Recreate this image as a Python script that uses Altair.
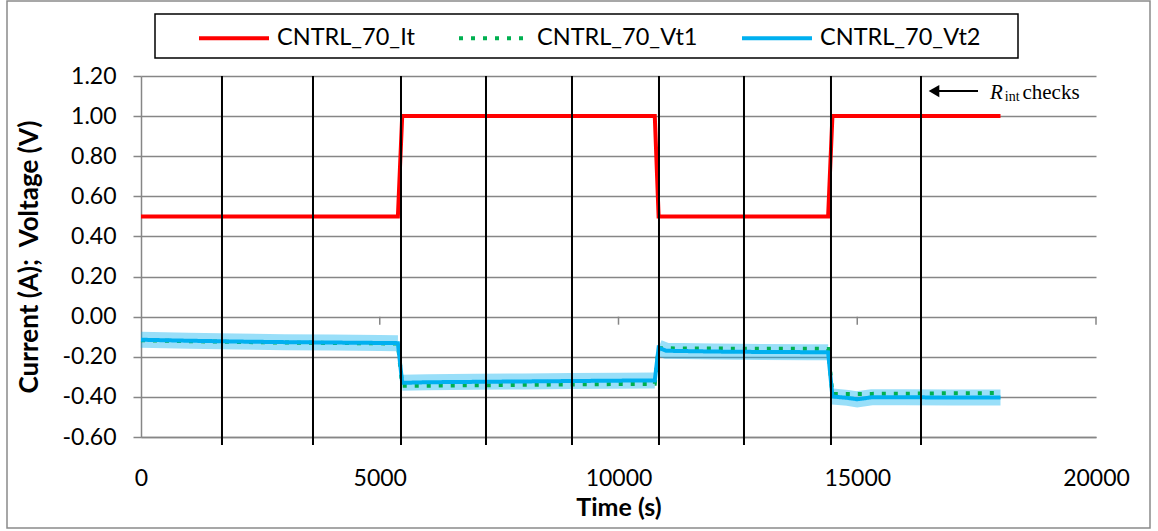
import altair as alt
import numpy as np
import pandas as pd

# Series names and colours (legend order)
series_names = ["CNTRL_70_It", "CNTRL_70_Vt1", "CNTRL_70_Vt2"]
series_colors = ["#FF0000", "#00B050", "#00B0F0"]

# Applied current (A)
time_it = [0, 5380, 5470, 10760, 10840, 14390, 14480, 18000]
current_it = [0.5, 0.5, 1.0, 1.0, 0.5, 0.5, 1.0, 1.0]

# Cell voltages (V), sampled at the same times
time_v = [0, 1000, 2000, 3000, 4000, 5000, 5380,
          5470, 6000, 7000, 8000, 9000, 10000, 10760,
          10840, 11000, 12000, 13000, 14000, 14390,
          14480, 14800, 15000, 15300, 16000, 17000, 18000]
vt1 = [-0.117, -0.122, -0.126, -0.129, -0.131, -0.133, -0.134,
       -0.345, -0.344, -0.342, -0.340, -0.338, -0.336, -0.335,
       -0.158, -0.158, -0.159, -0.160, -0.160, -0.161,
       -0.386, -0.386, -0.386, -0.385, -0.384, -0.382, -0.381]
vt2 = [-0.115, -0.120, -0.124, -0.127, -0.129, -0.131, -0.132,
       -0.330, -0.327, -0.325, -0.323, -0.321, -0.319, -0.318,
       -0.155, -0.170, -0.174, -0.176, -0.177, -0.178,
       -0.398, -0.405, -0.412, -0.402, -0.402, -0.403, -0.403]

# Times of the internal-resistance checks
rint_check_times = [1696, 3602, 5445, 7225, 9026, 10848, 12628, 14450, 16335]
# Current steps split the voltage trace into plateaus
step_times = [5420, 10800, 14440]

x_ticks = [0, 5000, 10000, 15000, 20000]
y_ticks = [-0.6, -0.4, -0.2, 0.0, 0.2, 0.4, 0.6, 0.8, 1.0, 1.2]

W, H = 955, 361
GRAY = "#868686"
FONT = "Lato"
SERIF = "Liberation Serif"

lines = pd.concat([
    pd.DataFrame({"series": series_names[0], "time": time_it, "value": current_it}),
    pd.DataFrame({"series": series_names[1], "time": time_v, "value": vt1}),
    pd.DataFrame({"series": series_names[2], "time": time_v, "value": vt2}),
], ignore_index=True)

band = pd.DataFrame({"time": time_v, "value": vt2,
                     "plateau": np.searchsorted(step_times, time_v)})

x_scale = alt.Scale(domain=[0, 20000], nice=False, zero=False)
y_scale = alt.Scale(domain=[-0.6, 1.2], nice=False, zero=False)

x_axis = alt.Axis(values=x_ticks, format="d", title="Time (s)", grid=False,
                  ticks=False, labelFlush=False, labelPadding=30, titlePadding=5,
                  domainColor=GRAY, domainWidth=1.5,
                  labelFont=FONT, labelFontSize=23, labelColor="black",
                  titleFont=FONT, titleFontSize=25, titleFontWeight="bold",
                  titleColor="black")
y_axis = alt.Axis(values=y_ticks, labelExpr="replace(format(datum.value, '.2f'), '\u2212', '-')",
                  title="Current (A);\u00a0 Voltage (V)", grid=True, gridColor=GRAY,
                  gridWidth=1.5, tickSize=8, tickColor=GRAY, tickWidth=1.5,
                  domainColor=GRAY, domainWidth=1.5, labelPadding=17,
                  titlePadding=20, labelFont=FONT, labelFontSize=23,
                  labelColor="black", titleFont=FONT, titleFontSize=26,
                  titleFontWeight="bold", titleColor="black")

# Soft glow behind the Vt2 trace, one piece per plateau
glow = alt.Chart(band).mark_line(strokeWidth=16, opacity=0.4, color="#00B0F0",
                                 strokeCap="butt").encode(
    x=alt.X("time:Q", scale=x_scale, axis=x_axis),
    y=alt.Y("value:Q", scale=y_scale, axis=y_axis),
    detail="plateau:N",
)

traces = alt.Chart(lines).mark_line(strokeJoin="miter").encode(
    x="time:Q",
    y="value:Q",
    color=alt.Color("series:N", scale=alt.Scale(domain=series_names, range=series_colors),
                    legend=alt.Legend(title=None)),
    strokeDash=alt.StrokeDash("series:N",
                              scale=alt.Scale(domain=series_names,
                                              range=[[1, 0], [4, 8], [1, 0]]),
                              legend=alt.Legend(title=None)),
    strokeWidth=alt.StrokeWidth("series:N",
                                scale=alt.Scale(domain=series_names, range=[4, 4, 4.5]),
                                legend=None),
)

# Tick marks on the zero line at the major time divisions
zero_ticks = alt.Chart(pd.DataFrame({"time": x_ticks[1:]})).mark_rule(
    color=GRAY, strokeWidth=1.5).encode(
    x="time:Q", y=alt.datum(0), y2=alt.datum(-0.04))

# Vertical markers for the resistance checks, with ticks below the axis
rint_rules = alt.Chart(pd.DataFrame({"time": rint_check_times})).mark_rule(
    color="black", strokeWidth=2).encode(
    x="time:Q", y=alt.value(0), y2=alt.value(H + 8))

# "R_int checks" note with arrow
arrow_line = alt.Chart(pd.DataFrame({"time": [17529], "time2": [16650], "value": [1.125]})).mark_rule(
    color="black", strokeWidth=2).encode(x="time:Q", x2="time2:Q", y="value:Q")
arrow_head = alt.Chart(pd.DataFrame({"time": [16607], "value": [1.125]})).mark_point(
    shape="triangle-left", filled=True, size=150, color="black", opacity=1).encode(
    x="time:Q", y="value:Q")
note_r = alt.Chart(pd.DataFrame({"time": [17780], "value": [1.083], "t": ["R"]})).mark_text(
    font=SERIF, fontSize=21, fontStyle="italic", align="left", baseline="alphabetic",
    color="black").encode(x="time:Q", y="value:Q", text="t:N")
note_sub = alt.Chart(pd.DataFrame({"time": [18090], "value": [1.073], "t": ["int"]})).mark_text(
    font=SERIF, fontSize=14, align="left", baseline="alphabetic",
    color="black").encode(x="time:Q", y="value:Q", text="t:N")
note_rest = alt.Chart(pd.DataFrame({"time": [18460], "value": [1.083], "t": ["checks"]})).mark_text(
    font=SERIF, fontSize=21, align="left", baseline="alphabetic",
    color="black").encode(x="time:Q", y="value:Q", text="t:N")

# Frame around the legend and around the whole figure
one = pd.DataFrame({"k": [0]})
legend_box = alt.Chart(one).mark_rect(fillOpacity=0, stroke="black", strokeWidth=1.5).encode(
    x=alt.value(14), x2=alt.value(877), y=alt.value(-62), y2=alt.value(-18))
outer_box = alt.Chart(one).mark_rect(fillOpacity=0, stroke="#8a8a8a", strokeWidth=1.5).encode(
    x=alt.value(-134), x2=alt.value(1009), y=alt.value(-75), y2=alt.value(452))

chart = alt.layer(
    glow, traces, zero_ticks, rint_rules, arrow_line, arrow_head,
    note_r, note_sub, note_rest, legend_box, outer_box,
).properties(
    width=W, height=H,
    autosize=alt.AutoSizeParams(type="none"),
    padding={"left": 141, "top": 76, "right": 62, "bottom": 94},
    background="white",
).configure_view(
    strokeWidth=0
).configure_legend(
    orient="none", legendX=56, legendY=-75, direction="horizontal",
    columns=3, gridAlign="each", columnPadding=36, padding=0,
    symbolType="stroke", symbolSize=4900, symbolStrokeWidth=5,
    labelFont=FONT, labelFontSize=23.5, labelColor="black", labelOffset=6,
    labelLimit=400,
)

chart.save("out.html", embed_options={"renderer": "svg", "actions": False})
